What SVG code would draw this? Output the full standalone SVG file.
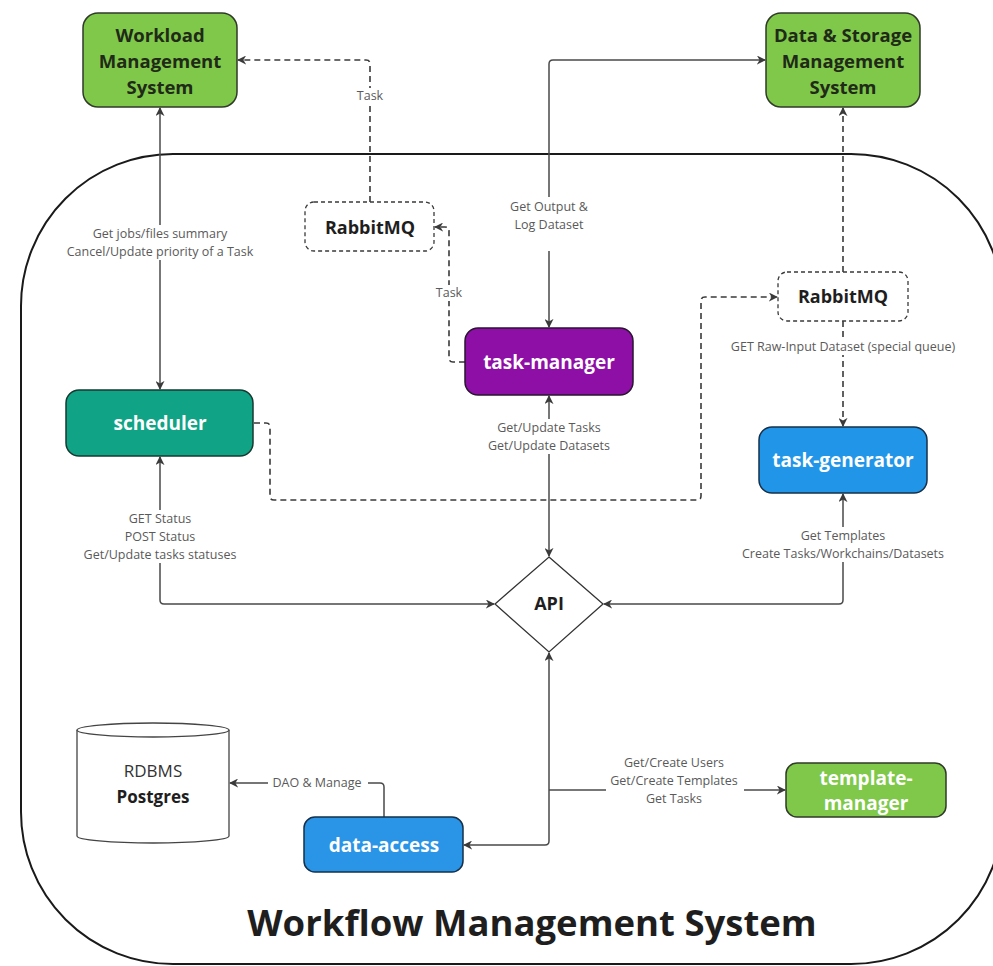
<svg xmlns="http://www.w3.org/2000/svg" width="993" height="966" viewBox="0 0 993 966">
<defs>
<marker id="ah" viewBox="0 0 10 10" refX="9" refY="5" markerWidth="9" markerHeight="9" markerUnits="userSpaceOnUse" orient="auto-start-reverse">
<path d="M0,0 L10,5 L0,10 L3,5 z" fill="#3a3a3a"/>
</marker>
<style>
.solid{fill:none;stroke:#4a4a4a;stroke-width:1.5}
.dash{fill:none;stroke:#3a3a3a;stroke-width:1.6;stroke-dasharray:6 4}
.lbl{font-family:"Open Sans","Noto Sans",sans-serif;font-size:12.5px;fill:#5a5a5a;text-anchor:middle}
.bg{fill:#fff}
.nt{font-family:"Open Sans","Noto Sans",sans-serif;font-weight:bold;text-anchor:middle}
.green{fill:#80c84a;stroke:#2f3a28;stroke-width:1.5}
.white{fill:#fff}
.dark{fill:#1f2a18}
</style>
</defs>
<rect width="993" height="966" fill="#fff"/>
<g id="container">
<rect x="21" y="154" width="982" height="810" rx="152" ry="152" fill="none" stroke="#1a1a1a" stroke-width="2"/>
<text x="532" y="936" class="nt" font-size="36.5" fill="#1e1e1e">Workflow Management System</text>
</g>
<g id="connectors">
<path class="solid" d="M160,108 V389" marker-start="url(#ah)" marker-end="url(#ah)"/>
<rect class="bg" x="74" y="225" width="172" height="35"/>
<text class="lbl" x="160" y="238">Get jobs/files summary</text>
<text class="lbl" x="160" y="256">Cancel/Update priority of a Task</text>
<path class="dash" d="M370,202 V64 Q370,60 366,60 H238" marker-end="url(#ah)"/>
<rect class="bg" x="354" y="88" width="32" height="16"/>
<text class="lbl" x="370" y="100">Task</text>
<path class="dash" d="M465,362 H453 Q449,362 449,358 V231 Q449,227 445,227 H435" marker-end="url(#ah)"/>
<rect class="bg" x="433" y="285" width="32" height="16"/>
<text class="lbl" x="449" y="297">Task</text>
<path class="solid" d="M549,327 V64 Q549,60 553,60 H765" marker-start="url(#ah)" marker-end="url(#ah)"/>
<rect class="bg" x="503" y="197" width="92" height="54"/>
<text class="lbl" x="549" y="211">Get Output &amp;</text>
<text class="lbl" x="549" y="229">Log Dataset</text>
<path class="dash" d="M843,272 V108" marker-end="url(#ah)"/>
<path class="dash" d="M254,423 H266 Q270,423 270,427 V496 Q270,500 274,500 H697 Q701,500 701,496 V301 Q701,297 705,297 H777" marker-end="url(#ah)"/>
<path class="dash" d="M843,321 V426" marker-end="url(#ah)"/>
<rect class="bg" x="726" y="339" width="234" height="16"/>
<text class="lbl" x="843" y="351">GET Raw-Input Dataset (special queue)</text>
<path class="solid" d="M549,396 V556" marker-start="url(#ah)" marker-end="url(#ah)"/>
<rect class="bg" x="484" y="419" width="130" height="35"/>
<text class="lbl" x="549" y="432">Get/Update Tasks</text>
<text class="lbl" x="549" y="450">Get/Update Datasets</text>
<path class="solid" d="M160,457 V600 Q160,604 164,604 H494" marker-start="url(#ah)" marker-end="url(#ah)"/>
<rect class="bg" x="78" y="510" width="164" height="53"/>
<text class="lbl" x="160" y="523">GET Status</text>
<text class="lbl" x="160" y="541">POST Status</text>
<text class="lbl" x="160" y="559">Get/Update tasks statuses</text>
<path class="solid" d="M843,494 V600 Q843,604 839,604 H604" marker-start="url(#ah)" marker-end="url(#ah)"/>
<rect class="bg" x="738" y="527" width="210" height="35"/>
<text class="lbl" x="843" y="540">Get Templates</text>
<text class="lbl" x="843" y="558">Create Tasks/Workchains/Datasets</text>
<path class="solid" d="M549,653 V841 Q549,845 545,845 H464" marker-start="url(#ah)" marker-end="url(#ah)"/>
<path class="solid" d="M549,790 H785" marker-end="url(#ah)"/>
<rect class="bg" x="606" y="754" width="138" height="53"/>
<text class="lbl" x="674" y="767">Get/Create Users</text>
<text class="lbl" x="674" y="785">Get/Create Templates</text>
<text class="lbl" x="674" y="803">Get Tasks</text>
<path class="solid" d="M384,817 V787 Q384,783 380,783 H230" marker-end="url(#ah)"/>
<rect class="bg" x="268" y="775" width="100" height="16"/>
<text class="lbl" x="317" y="787">DAO &amp; Manage</text>
</g>
<g id="workload">
<rect class="green" x="83" y="13" width="154" height="94" rx="15"/>
<text class="nt dark" font-size="18.5" x="160" y="41.5">Workload</text>
<text class="nt dark" font-size="18.5" x="160" y="67.5">Management</text>
<text class="nt dark" font-size="18.5" x="160" y="93.5">System</text>
</g>
<g id="datastorage">
<rect class="green" x="766" y="13" width="154" height="94" rx="15"/>
<text class="nt dark" font-size="18.5" x="843" y="41.5">Data &amp; Storage</text>
<text class="nt dark" font-size="18.5" x="843" y="67.5">Management</text>
<text class="nt dark" font-size="18.5" x="843" y="93.5">System</text>
</g>
<g id="rabbitmq1">
<rect x="305" y="202" width="129" height="49" rx="9" fill="#fff" stroke="#3a3a3a" stroke-width="1.3" stroke-dasharray="4 3"/>
<text class="nt" font-size="18" fill="#1e1e1e" x="370" y="234">RabbitMQ</text>
</g>
<g id="rabbitmq2">
<rect x="778" y="272" width="130" height="49" rx="9" fill="#fff" stroke="#3a3a3a" stroke-width="1.3" stroke-dasharray="4 3"/>
<text class="nt" font-size="18" fill="#1e1e1e" x="843" y="303">RabbitMQ</text>
</g>
<g id="taskmanager">
<rect x="465" y="328" width="168" height="67" rx="13" fill="#8e0fa6" stroke="#2a1530" stroke-width="1.5"/>
<text class="nt white" font-size="19" x="549" y="369">task-manager</text>
</g>
<g id="scheduler">
<rect x="66" y="390" width="187" height="66" rx="13" fill="#10a385" stroke="#173a30" stroke-width="1.5"/>
<text class="nt white" font-size="19" x="160" y="430">scheduler</text>
</g>
<g id="taskgenerator">
<rect x="759" y="427" width="168" height="66" rx="13" fill="#2196e9" stroke="#16304a" stroke-width="1.5"/>
<text class="nt white" font-size="19" x="843" y="467">task-generator</text>
</g>
<g id="api">
<polygon points="549,557 603,604 549,652 495,604" fill="#fff" stroke="#333" stroke-width="1.3"/>
<text class="nt" font-size="18" fill="#1e1e1e" x="549" y="610">API</text>
</g>
<g id="postgres">
<path d="M77,730 V836 A76,7 0 0 0 229,836 V730" fill="#fff" stroke="#444" stroke-width="1.3"/>
<ellipse cx="153" cy="730" rx="76" ry="7" fill="#fff" stroke="#444" stroke-width="1.3"/>
<text x="153" y="777" font-family="'Open Sans','Noto Sans',sans-serif" font-size="17" fill="#333" text-anchor="middle">RDBMS</text>
<text class="nt" font-size="17" fill="#1e1e1e" x="153" y="803">Postgres</text>
</g>
<g id="dataaccess">
<rect x="304" y="817" width="159" height="55" rx="11" fill="#2a94e6" stroke="#16304a" stroke-width="1.5"/>
<text class="nt white" font-size="19" x="384" y="852">data-access</text>
</g>
<g id="templatemanager">
<rect class="green" x="786" y="763" width="160" height="54" rx="11"/>
<text class="nt white" font-size="19" x="866" y="785">template-</text>
<text class="nt white" font-size="19" x="866" y="810">manager</text>
</g>
</svg>
